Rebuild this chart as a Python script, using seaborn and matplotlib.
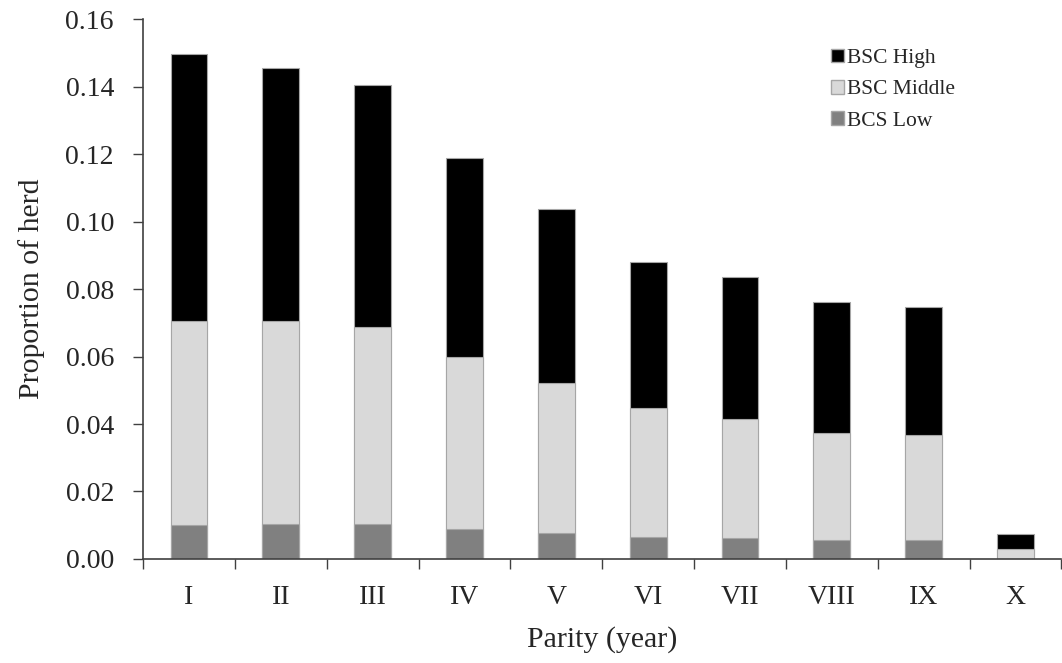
import matplotlib
matplotlib.use("Agg")
import matplotlib.pyplot as plt
from matplotlib.patches import Patch
import numpy as np
import pandas as pd
import seaborn as sns

# Data
parity = ["I", "II", "III", "IV", "V", "VI", "VII", "VIII", "IX", "X"]
bcs_low = [0.0101, 0.0105, 0.0105, 0.0089, 0.0078, 0.0066, 0.0062, 0.0055, 0.0055, 0.0]
bsc_middle = [0.0606, 0.0602, 0.0584, 0.0509, 0.0443, 0.0383, 0.0352, 0.0317, 0.0312, 0.0029]
bsc_high = [0.0790, 0.0748, 0.0718, 0.0592, 0.0517, 0.0433, 0.0423, 0.0389, 0.0379, 0.0045]

COL_HIGH = "#000000"
COL_MID = "#d9d9d9"
COL_LOW = "#808080"
EDGE = "#a6a6a6"

sns.set_theme(style="white")
plt.rcParams["font.family"] = ["Liberation Serif", "DejaVu Serif"]

df = pd.DataFrame({
    "parity": parity,
    "low": bcs_low,
    "middle": np.add(bcs_low, bsc_middle),
    "high": np.add(np.add(bcs_low, bsc_middle), bsc_high),
})

fig, ax = plt.subplots(figsize=(10.62, 6.63), dpi=100)
fig.subplots_adjust(left=0.1347, right=0.9995, bottom=0.157, top=0.9706)

# Stack by overdrawing cumulative totals, tallest first
for col, color in [("high", COL_HIGH), ("middle", COL_MID), ("low", COL_LOW)]:
    sns.barplot(data=df, x="parity", y=col, color=color, width=0.4,
                edgecolor=EDGE, linewidth=0.8, saturation=1, ax=ax)

ax.set_xlim(-0.5, len(parity) - 0.5)
ax.set_ylim(0, 0.16)
yt = np.arange(0, 0.161, 0.02)
ax.set_yticks(yt)
ax.set_yticklabels([f"{v:.2f}" for v in yt])

# category separators as x ticks
ax.set_xticks(np.arange(-0.5, len(parity), 1.0), minor=True)
ax.tick_params(axis="x", which="major", length=0, pad=19, labelsize=20)
ax.tick_params(axis="x", which="minor", length=7, width=1, color="#404040",
               direction="out", bottom=True)
ax.tick_params(axis="y", which="major", length=7, width=1, color="#404040",
               direction="out", left=True, labelsize=20, pad=14)

for side in ["top", "right"]:
    ax.spines[side].set_visible(False)
for side in ["left", "bottom"]:
    ax.spines[side].set_color("#404040")
    ax.spines[side].set_linewidth(1.2)

ax.set_xlabel("Parity (year)", fontsize=21.5, labelpad=11)
ax.set_ylabel("Proportion of herd", fontsize=21.5, labelpad=15)

handles = [
    Patch(facecolor=COL_HIGH, edgecolor=EDGE, label="BSC High"),
    Patch(facecolor=COL_MID, edgecolor=EDGE, label="BSC Middle"),
    Patch(facecolor=COL_LOW, edgecolor=EDGE, label="BCS Low"),
]
ax.legend(handles=handles, loc="upper right", bbox_to_anchor=(0.905, 0.982),
          frameon=False, fontsize=15.5, handlelength=0.6, handleheight=0.6,
          handletextpad=0.15, labelspacing=0.55)

fig.savefig("out.png", dpi=100)
